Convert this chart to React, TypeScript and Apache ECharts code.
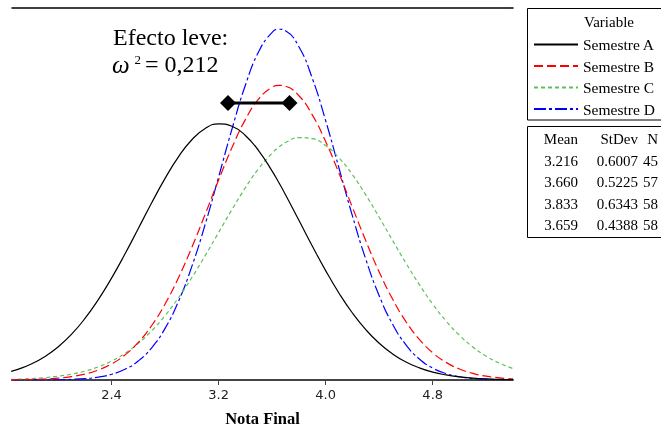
import React, { useEffect, useRef } from "react";
import * as echarts from "echarts";

// x positions (Nota Final) at which the curves were read
const xs = [1.65, 1.7, 1.8, 1.9, 2.0, 2.1, 2.2, 2.3, 2.4, 2.5, 2.6, 2.7, 2.8, 2.9, 3.0, 3.1, 3.2, 3.3, 3.4, 3.5, 3.6, 3.65, 3.7, 3.8, 3.9, 4.0, 4.1, 4.2, 4.3, 4.4, 4.5, 4.6, 4.7, 4.8, 4.9, 5.0, 5.1, 5.2, 5.3, 5.4];

const semestreA = [0.0222, 0.0275, 0.0413, 0.0603, 0.0856, 0.1182, 0.1589, 0.2076, 0.264, 0.3264, 0.3926, 0.4593, 0.5225, 0.5783, 0.6226, 0.6519, 0.6639, 0.6577, 0.6337, 0.5939, 0.5414, 0.5116, 0.48, 0.414, 0.3473, 0.2834, 0.2249, 0.1736, 0.1304, 0.0952, 0.0676, 0.0467, 0.0314, 0.0205, 0.0131, 0.0081, 0.0049, 0.0028, 0.0016, 0.0009];
const semestreB = [0.0005, 0.0007, 0.0014, 0.0026, 0.0049, 0.0089, 0.0154, 0.0258, 0.0417, 0.0649, 0.0975, 0.1412, 0.1971, 0.2651, 0.3438, 0.4299, 0.5182, 0.6022, 0.6747, 0.7285, 0.7585, 0.7635, 0.7613, 0.7366, 0.6871, 0.6178, 0.5355, 0.4476, 0.3606, 0.2801, 0.2097, 0.1513, 0.1053, 0.0707, 0.0457, 0.0285, 0.0171, 0.0099, 0.0055, 0.003];
const semestreC = [0.0017, 0.0022, 0.0037, 0.0061, 0.0097, 0.0151, 0.0229, 0.0339, 0.049, 0.0691, 0.0951, 0.1276, 0.167, 0.2132, 0.2655, 0.3226, 0.3822, 0.4418, 0.4982, 0.548, 0.5879, 0.6033, 0.6153, 0.6281, 0.6254, 0.6075, 0.5756, 0.532, 0.4796, 0.4218, 0.3618, 0.3028, 0.2471, 0.1967, 0.1528, 0.1158, 0.0855, 0.0617, 0.0434, 0.0297];
const semestreD = [0.0, 0.0, 0.0001, 0.0003, 0.0007, 0.0017, 0.0036, 0.0075, 0.0148, 0.0278, 0.0494, 0.0835, 0.1338, 0.2037, 0.2944, 0.4038, 0.526, 0.6505, 0.7638, 0.8513, 0.901, 0.9089, 0.9052, 0.8634, 0.7819, 0.6721, 0.5487, 0.4252, 0.3128, 0.2185, 0.1448, 0.0912, 0.0545, 0.0309, 0.0167, 0.0085, 0.0041, 0.0019, 0.0008, 0.0003];

const seriesNames = ["Semestre A", "Semestre B", "Semestre C", "Semestre D"];
const seriesValues = [semestreA, semestreB, semestreC, semestreD];

const xTicks = [2.4, 3.2, 4.0, 4.8];

const means = ["3.216", "3.660", "3.833", "3.659"];
const stdevs = ["0.6007", "0.5225", "0.6343", "0.4388"];
const counts = ["45", "57", "58", "58"];

const effectEnds = [3.27, 3.73];
const effectLevel = 0.718;

const colors = ["#000000", "#ff0000", "#5cc15c", "#0000ff"];
const dashes: any[] = ["solid", [9, 4], [4, 3], [12, 3, 3, 3]];

const SERIF = "'Liberation Serif', 'Times New Roman', serif";

export default function App() {
  const ref = useRef<HTMLDivElement>(null);
  useEffect(() => {
    if (!ref.current) return;
    const chart = echarts.init(ref.current, null, { renderer: "svg" });

    const lineSeries = seriesNames.map((name, k) => ({
      name,
      type: "line",
      data: xs.map((x, i) => [x, seriesValues[k][i]]),
      showSymbol: false,
      symbol: "none",
      smooth: true,
      lineStyle: { color: colors[k], width: 1.2, type: dashes[k] },
      itemStyle: { color: colors[k] },
      z: 2 + (3 - k),
    }));

    const rowY = [160.5, 182, 203.5, 225];
    const tableTexts: any[] = [];
    const cols = [578, 638, 658];
    ["Mean", "StDev", "N"].forEach((t, c) => {
      tableTexts.push({
        type: "text",
        x: cols[c],
        y: 139,
        style: { text: t, font: `15px ${SERIF}`, fill: "#000", align: "right", verticalAlign: "middle" },
      });
    });
    means.forEach((m, r) => {
      [m, stdevs[r], counts[r]].forEach((t, c) => {
        tableTexts.push({
          type: "text",
          x: cols[c],
          y: rowY[r],
          style: { text: t, font: `15px ${SERIF}`, fill: "#000", align: "right", verticalAlign: "middle" },
        });
      });
    });

    chart.setOption({
      animation: false,
      grid: { left: 12, right: 148, top: 8, bottom: 48, containLabel: false, outerBoundsMode: "none" },
      xAxis: [
        {
          type: "value",
          min: 1.656,
          max: 5.4,
          name: "Nota Final",
          nameLocation: "middle",
          nameGap: 30,
          nameTextStyle: { fontFamily: SERIF, fontWeight: "bold", fontSize: 16.5, color: "#000" },
          axisLine: { show: true, lineStyle: { color: "#444", width: 2 } },
          axisTick: { show: true, customValues: xTicks, length: 5, lineStyle: { color: "#444", width: 1 } },
          axisLabel: {
            show: true,
            customValues: xTicks,
            formatter: (v: number) => v.toFixed(1),
            fontFamily: "'DejaVu Sans', sans-serif",
            fontSize: 13,
            color: "#222",
            margin: 8,
          },
          splitLine: { show: false },
        },
        {
          type: "value",
          position: "top",
          min: 1.656,
          max: 5.4,
          axisLine: { show: true, onZero: false, lineStyle: { color: "#000", width: 1.5 } },
          axisTick: { show: false },
          axisLabel: { show: false },
          splitLine: { show: false },
        },
      ],
      yAxis: { type: "value", min: 0, max: 0.964, show: false },
      legend: {
        orient: "vertical",
        left: 533,
        top: 36.5,
        padding: 0,
        itemWidth: 44,
        itemHeight: 14,
        itemGap: 5.5,
        data: seriesNames,
        itemStyle: { opacity: 0 },
        textStyle: { fontFamily: SERIF, fontSize: 15.5, color: "#000" },
      },
      series: [
        ...lineSeries,
        {
          name: "Efecto",
          type: "line",
          data: effectEnds.map((x) => [x, effectLevel]),
          symbol: "diamond",
          symbolSize: 16,
          showSymbol: true,
          itemStyle: { color: "#000" },
          lineStyle: { color: "#000", width: 3 },
          z: 10,
        },
      ],
      graphic: [
        { type: "rect", shape: { x: 527.5, y: 8.5, width: 145, height: 111.5 }, style: { fill: "none", stroke: "#000", lineWidth: 1 } },
        { type: "rect", shape: { x: 527.5, y: 126.5, width: 145, height: 111 }, style: { fill: "none", stroke: "#000", lineWidth: 1 } },
        { type: "text", x: 609, y: 22, style: { text: "Variable", font: `15px ${SERIF}`, fill: "#000", align: "center", verticalAlign: "middle" } },
        ...tableTexts,
        { type: "text", x: 113, y: 36.5, style: { text: "Efecto leve:", font: `24px ${SERIF}`, fill: "#000", align: "left", verticalAlign: "middle" } },
        { type: "text", x: 112, y: 64, style: { text: "ω", font: `italic 25px ${SERIF}`, fill: "#000", align: "left", verticalAlign: "middle" } },
        { type: "text", x: 134.5, y: 59, style: { text: "2", font: `13px ${SERIF}`, fill: "#000", align: "left", verticalAlign: "middle" } },
        { type: "text", x: 145, y: 64, style: { text: "= 0,212", font: `24px ${SERIF}`, fill: "#000", align: "left", verticalAlign: "middle" } },
      ],
    });
    return () => chart.dispose();
  }, []);
  return <div ref={ref} style={{ position: "fixed", left: 0, top: 0, width: 661, height: 428 }} />;
}
